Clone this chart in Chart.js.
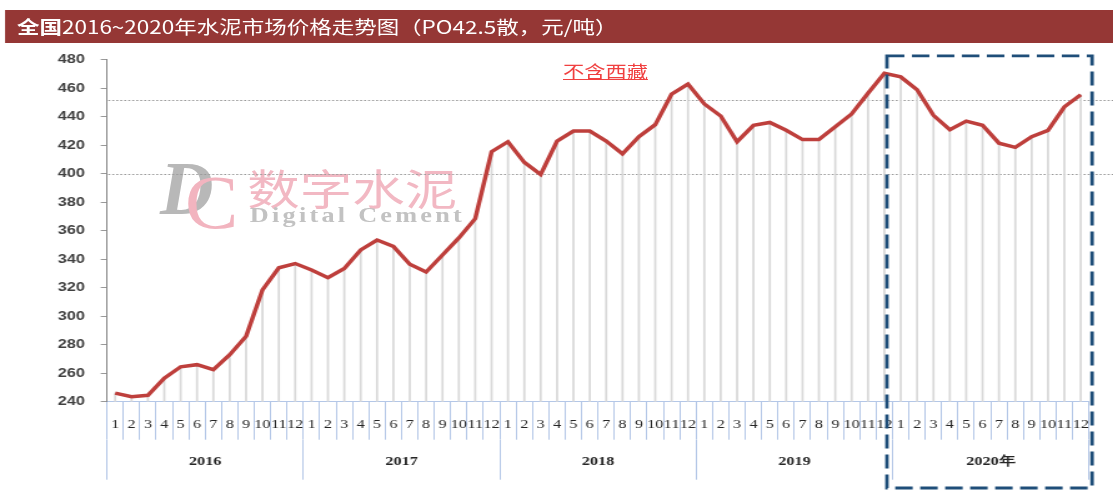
<!DOCTYPE html>
<html><head><meta charset="utf-8">
<script src="https://cdn.jsdelivr.net/npm/chart.js@4.4.1/dist/chart.umd.min.js"></script>
<style>
html,body{margin:0;padding:0;background:#fff;overflow:hidden;width:1113px;height:504px;}
#stage{position:absolute;left:0;top:0;width:891px;height:504px;transform:scaleX(1.2492);transform-origin:0 0;}
#chart{position:absolute;left:0;top:0;z-index:2;}
.wm{position:absolute;z-index:1;white-space:nowrap;line-height:1;transform-origin:0 0;}
#title{position:absolute;left:13.6px;top:10px;height:33px;z-index:3;color:#fff;font-family:"Noto Sans CJK SC";font-size:18px;line-height:33px;white-space:nowrap;}
#note{position:absolute;left:450.7px;top:62px;color:#f04040;font-family:"Noto Sans CJK SC";font-size:17px;text-decoration:underline;z-index:3;line-height:1;white-space:nowrap;}
</style></head>
<body>
<div id="stage">
  <div id="title"><b>全国</b>2016~2020年水泥市场价格走势图（PO42.5散，元/吨）</div>
  <div id="note">不含西藏</div>
  <div class="wm" style="left:128px;top:145px;font:italic bold 76px 'Liberation Serif';color:#b8b8b8;transform:scaleX(0.78);">D</div>
  <div class="wm" style="left:148px;top:158px;font:77px 'Liberation Serif';color:#f2b4bf;transform:scaleX(0.83);">C</div>
  <div class="wm" style="left:198px;top:156px;font:42px 'Noto Sans CJK SC';color:#f2b8c3;">数字水泥</div>
  <div class="wm" style="left:200px;top:203px;font:bold 21px 'Liberation Serif';color:#c2c2c2;letter-spacing:2.6px;">Digital Cement</div>
  <canvas id="chart" width="891" height="504"></canvas>
</div>
<script>
const years = ['2016', '2017', '2018', '2019', '2020年'];
const monthLabels = ['1','2','3','4','5','6','7','8','9','10','11','12'];
const price2016 = [246, 243.5, 244.5, 256.5, 264.5, 266, 262.5, 273, 286, 318.5, 334, 337];
const price2017 = [332.5, 327, 333.5, 346.5, 353.5, 349, 336.5, 331, 343, 355, 368.5, 415.5];
const price2018 = [422.5, 408, 399.5, 423, 430, 430, 423, 414, 426, 434.5, 456, 463];
const price2019 = [449, 440.5, 422.5, 434, 436, 430.5, 424, 424, 433, 442, 456.5, 470.5];
const price2020 = [468, 459, 441, 431, 437, 434, 421.5, 418.5, 426, 430.5, 447, 455.5];
const yTicks = {min: 240, max: 480, step: 20};
const REF_LINES = [400, 452];
const HIGHLIGHT_YEAR = 4;

const categories = years.flatMap(() => monthLabels);
const prices = [...price2016, ...price2017, ...price2018, ...price2019, ...price2020];

const overlay = {
  id: 'overlay',
  beforeDraw(chart) {
    const {ctx} = chart;
    ctx.save();
    ctx.fillStyle = '#953735';
    ctx.fillRect(4, 10, chart.width - 4, 33);
    ctx.restore();
  },
  beforeDatasetsDraw(chart) {
    const {ctx, chartArea, scales: {y}} = chart;
    ctx.save();
    ctx.strokeStyle = '#9a9a9a';
    ctx.lineWidth = 1;
    ctx.setLineDash([1.6, 1.6]);
    REF_LINES.forEach(v => {
      const py = Math.round(y.getPixelForValue(v)) + 0.5;
      ctx.beginPath();
      ctx.moveTo(chartArea.left + 1, py);
      ctx.lineTo(chart.width, py);
      ctx.stroke();
    });
    ctx.restore();
  },
  afterDraw(chart) {
    const {ctx, chartArea, scales: {x2, y}} = chart;
    const half = (chartArea.right - chartArea.left) / years.length / 2;
    const left = x2.getPixelForValue(HIGHLIGHT_YEAR) - half - 4.5;
    const right = chartArea.right + 2.5;
    const top = y.getPixelForValue(yTicks.max) - 4;
    const bottom = chart.height - 16;
    ctx.save();
    ctx.strokeStyle = '#1f4e79';
    ctx.lineWidth = 2.8;
    ctx.setLineDash([14, 6]);
    ctx.strokeRect(left, top, right - left, bottom - top);
    ctx.restore();
  }
};

new Chart(document.getElementById('chart'), {
  type: 'line',
  data: {
    labels: categories,
    datasets: [
      {
        type: 'line', data: prices, borderColor: '#be3f3c', borderWidth: 3.5,
        pointRadius: 0, tension: 0, fill: false, order: 0
      },
      {
        type: 'bar', data: prices, backgroundColor: '#d9d9d9',
        barThickness: 1.1, order: 1
      }
    ]
  },
  plugins: [overlay],
  options: {
    responsive: false,
    animation: false,
    events: [],
    layout: {padding: {left: 45.65, right: 19.3, top: 59.8, bottom: 4.3}},
    plugins: {legend: {display: false}, tooltip: {enabled: false}},
    scales: {
      x: {
        type: 'category', offset: true, weight: 0,
        grid: {offset: true, drawOnChartArea: false, drawTicks: true, tickLength: 38, color: '#b4c7e7'},
        border: {display: true, color: '#b4c7e7'},
        ticks: {autoSkip: false, maxRotation: 0, minRotation: 0, padding: -23,
                font: {family: 'Liberation Serif', size: 13}, color: '#262626'},
        afterFit: s => { s.height = 38; }
      },
      x2: {
        type: 'category', labels: years, offset: true, position: 'bottom', weight: 1,
        grid: {offset: true, drawOnChartArea: false, drawTicks: true, tickLength: 40, color: '#b4c7e7'},
        border: {display: false},
        ticks: {autoSkip: false, maxRotation: 0, minRotation: 0, padding: -26,
                font: {family: 'Liberation Serif', size: 13, weight: 'bold'}, color: '#262626'},
        afterFit: s => { s.height = 60; }
      },
      y: {
        min: yTicks.min, max: yTicks.max,
        ticks: {stepSize: yTicks.step, padding: 12.6,
                font: {family: 'Liberation Sans', size: 13, weight: 'bold'}, color: '#404040'},
        grid: {drawOnChartArea: false, drawTicks: true, tickLength: 5, color: '#999'},
        border: {color: '#888'},
        afterFit: s => { s.width = 40; }
      }
    }
  }
});
</script>
</body></html>
